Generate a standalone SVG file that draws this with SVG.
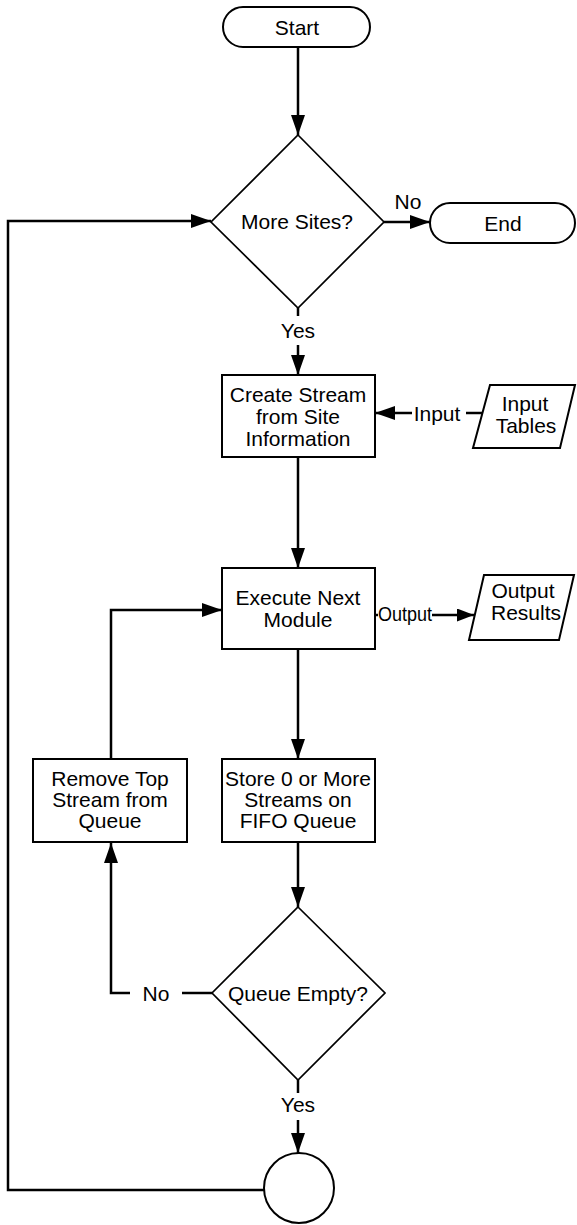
<svg xmlns="http://www.w3.org/2000/svg" width="577" height="1225" viewBox="0 0 577 1225">
<defs>
<marker id="ah" markerUnits="userSpaceOnUse" markerWidth="20" markerHeight="14" refX="20" refY="7" orient="auto">
<path d="M0,0 L20,7 L0,14 z" fill="#000"/>
</marker>
<marker id="ahs" markerUnits="userSpaceOnUse" markerWidth="17" markerHeight="13" refX="17" refY="6.5" orient="auto">
<path d="M0,0 L17,6.5 L0,13 z" fill="#000"/>
</marker>
<style>
.shape{fill:#fff;stroke:#000;stroke-width:2}
.dia{fill:#fff;stroke:#000;stroke-width:1.7}
.t{font-family:"Liberation Sans",Arial,sans-serif;font-size:21px;fill:#000;text-anchor:middle;dominant-baseline:central}
.c{fill:none;stroke:#000;stroke-width:2.5}
.a{fill:none;stroke:#000;stroke-width:2.5;marker-end:url(#ah)}
.as{fill:none;stroke:#000;stroke-width:2.5;marker-end:url(#ahs)}
</style>
</defs>
<rect width="577" height="1225" fill="#fff"/>
<g id="connectors">
<path class="a" d="M298,47 V135"/>
<path class="a" d="M384,222 H430"/>
<text class="t" x="408" y="201">No</text>
<path class="c" d="M298,308 V316"/>
<text class="t" x="298" y="330">Yes</text>
<path class="a" d="M298,345 V375"/>
<path class="a" d="M298,457 V568"/>
<path class="c" d="M466,413 H482"/>
<text class="t" x="437" y="413">Input</text>
<path class="a" d="M412,413 H375"/>
<path class="c" d="M375,615 H378"/>
<text class="t" x="405" y="613" textLength="54" lengthAdjust="spacingAndGlyphs">Output</text>
<path class="as" d="M432,615 H474"/>
<path class="a" d="M298,649 V759"/>
<path class="a" d="M298,842 V907"/>
<path class="c" d="M212,993 H182"/>
<text class="t" x="156" y="993">No</text>
<path class="a" d="M130,993 H111 V843"/>
<path class="a" d="M111,759 V610 H222"/>
<path class="c" d="M298,1080 V1093"/>
<text class="t" x="298" y="1104">Yes</text>
<path class="a" d="M298,1120 V1153"/>
<path class="a" d="M264,1190 H8 V221 H211"/>
</g>
<g id="start">
<rect class="shape" x="223" y="7" width="147" height="40" rx="20"/>
<text class="t" x="297" y="27">Start</text>
</g>
<g id="more-sites">
<path class="dia" d="M298,135 L384,222 L298,308 L211,222 z"/>
<text class="t" x="297" y="221">More Sites?</text>
</g>
<g id="end">
<rect class="shape" x="430" y="203" width="145" height="40" rx="20"/>
<text class="t" x="503" y="223">End</text>
</g>
<g id="create-stream">
<rect class="shape" x="222" y="375" width="153" height="82"/>
<text class="t" x="298" y="394">Create Stream</text>
<text class="t" x="298" y="416">from Site</text>
<text class="t" x="298" y="438">Information</text>
</g>
<g id="input-tables">
<path class="shape" d="M490,385 L575,385 L560,448 L473,448 z"/>
<text class="t" x="525" y="403">Input</text>
<text class="t" x="526" y="425">Tables</text>
</g>
<g id="execute">
<rect class="shape" x="222" y="568" width="153" height="81"/>
<text class="t" x="298" y="597">Execute Next</text>
<text class="t" x="298" y="619">Module</text>
</g>
<g id="output-results">
<path class="shape" d="M484,575 L574,575 L559,640 L469,640 z"/>
<text class="t" x="523" y="590">Output</text>
<text class="t" x="526" y="612">Results</text>
</g>
<g id="remove-top">
<rect class="shape" x="33" y="759" width="154" height="83"/>
<text class="t" x="110" y="778">Remove Top</text>
<text class="t" x="110" y="799">Stream from</text>
<text class="t" x="110" y="820">Queue</text>
</g>
<g id="store">
<rect class="shape" x="222" y="759" width="153" height="83"/>
<text class="t" x="298" y="778">Store 0 or More</text>
<text class="t" x="298" y="799">Streams on</text>
<text class="t" x="298" y="820">FIFO Queue</text>
</g>
<g id="queue-empty">
<path class="dia" d="M298,907 L385,993 L298,1080 L212,993 z"/>
<text class="t" x="298" y="993">Queue Empty?</text>
</g>
<g id="connector-circle">
<circle class="shape" cx="299" cy="1188" r="35"/>
</g>
</svg>
